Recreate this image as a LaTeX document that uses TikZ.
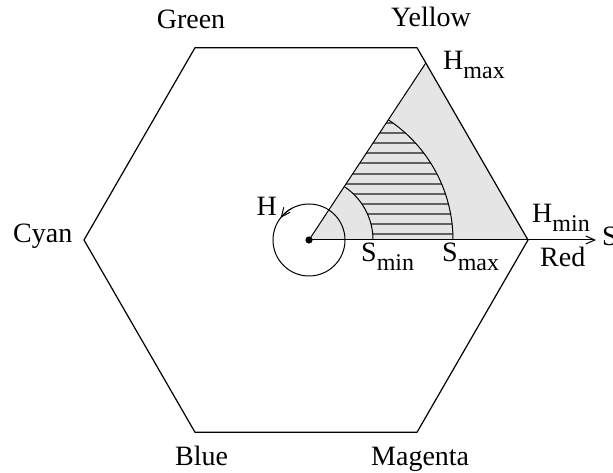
\documentclass[tikz,border=0pt]{standalone}
\usepackage{fontspec}
\setmainfont{Liberation Serif}
\usetikzlibrary{arrows.meta}
\newcommand\lsub[1]{\raisebox{-9pt}{\fontsize{24}{24}\selectfont #1}}
\begin{document}
\begin{tikzpicture}[x=1pt,y=1pt,
  lbl/.style={inner sep=0pt,font=\fontsize{28}{33}\selectfont},
  hexline/.style={line width=1.2pt,line join=miter},
  thin line/.style={line width=1pt},
  hatch/.style={line width=2pt,draw=black!62},
  barb/.style={-{Straight Barb[length=9pt,width=8pt]}}]
\useasboundingbox (-309,-233) rectangle (304,240);
\coordinate (O) at (0,0);
\coordinate (Red) at (219,0);
\coordinate (Yel) at (108,192.3);
\coordinate (Gre) at (-114,192.3);
\coordinate (Cya) at (-225,0);
\coordinate (Blu) at (-114,-192.3);
\coordinate (Mag) at (108,-192.3);
\coordinate (A) at (116.8,177);
\coordinate (Send) at (287,0);
% sector
\fill[black!10] (O) -- (Red) -- (A) -- cycle;
% hatching
\begin{scope}
\clip (64,0) -- (144,0) arc[start angle=0,end angle=56.6,radius=144]
  -- (56.6:64) arc[start angle=56.6,end angle=0,radius=64] -- cycle;
\foreach \k in {0,...,11} \draw[hatch] (0,5.5+10.15*\k) -- (160,5.5+10.15*\k);
\end{scope}
\draw[thin line] (64,0) arc[start angle=0,end angle=56.6,radius=64];
\draw[thin line] (144,0) arc[start angle=0,end angle=56.6,radius=144];
\draw[thin line] (O) -- (A);
\draw[thin line,barb] (O) -- (Send);
% hexagon
\draw[hexline] (Red) -- (Yel) -- (Gre) -- (Cya) -- (Blu) -- (Mag) -- cycle;
% H circle
\draw[thin line] (O) circle[radius=36];
\draw[thin line,barb] (118:36) arc[start angle=118,end angle=142,radius=36];
\fill (O) circle[radius=3.6];
% labels
\node[lbl,anchor=base] (tG) at (-118,211) {Green};
\node[lbl,anchor=base east] (tY) at (162,213) {Yellow};
\node[lbl,anchor=base west] (tHmax) at (134,170) {H\lsub{max}};
\node[lbl,anchor=base west] (tC) at (-296,-3) {Cyan};
\node[lbl,anchor=base west] (tHmin) at (223,17) {H\lsub{min}};
\node[lbl,anchor=base west] (tR) at (231,-27) {Red};
\node[lbl,anchor=base west] (tS) at (293,-6) {S};
\node[lbl,anchor=base west] (tSmin) at (52,-22) {S\lsub{min}};
\node[lbl,anchor=base west] (tSmax) at (133,-22) {S\lsub{max}};
\node[lbl,anchor=base east] (tH) at (-32,24) {H};
\node[lbl,anchor=base west] (tB) at (-134,-226) {Blue};
\node[lbl,anchor=base west] (tM) at (62,-226) {Magenta};
\end{tikzpicture}
\end{document}
